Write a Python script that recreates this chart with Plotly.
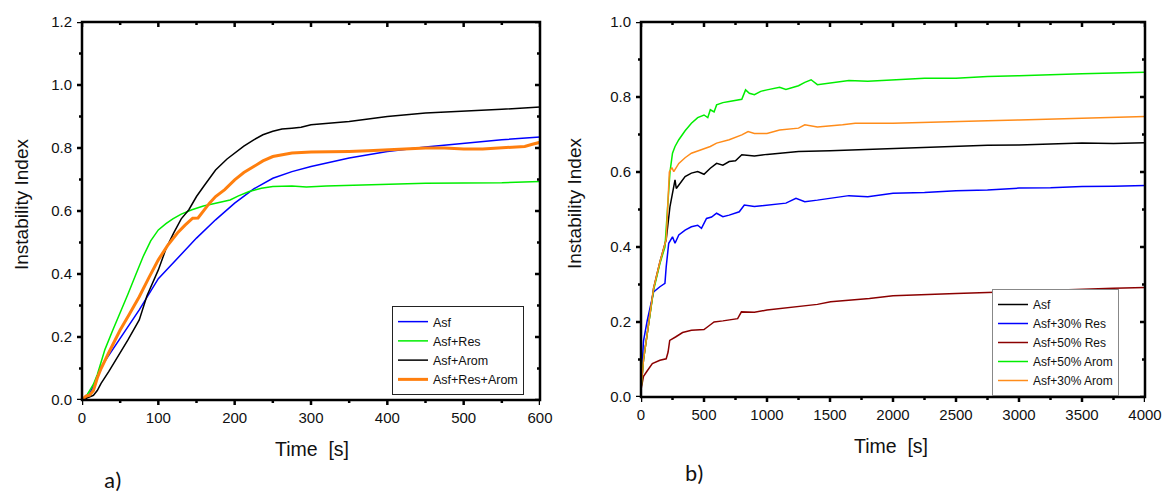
import plotly.graph_objects as go

# ---------------- Panel a) data ----------------
a_t_asf = [0, 5, 10, 15, 25, 50, 75, 100, 125, 150, 175, 200, 225, 250, 275, 300, 350, 400, 450, 500, 550, 600]
a_v_asf = [0.0, 0.005, 0.02, 0.045, 0.105, 0.196, 0.286, 0.385, 0.45, 0.514, 0.572, 0.625, 0.67, 0.704, 0.725, 0.741, 0.768, 0.789, 0.803, 0.815, 0.826, 0.835]

a_t_res = [0, 5, 10, 15, 20, 25, 30, 40, 50, 60, 70, 80, 90, 100, 110, 119, 130, 144, 159, 175, 194, 205, 219, 235, 250, 275, 294, 320, 350, 400, 450, 500, 550, 600]
a_v_res = [0.0, 0.01, 0.03, 0.05, 0.08, 0.12, 0.16, 0.22, 0.275, 0.335, 0.395, 0.455, 0.505, 0.54, 0.56, 0.575, 0.59, 0.604, 0.616, 0.625, 0.635, 0.648, 0.662, 0.672, 0.678, 0.679, 0.676, 0.679, 0.681, 0.686, 0.688, 0.689, 0.69, 0.694]

a_t_arom = [0, 5, 10, 15, 20, 25, 35, 50, 60, 75, 85, 100, 110, 120, 130, 140, 150, 160, 175, 190, 200, 212, 225, 237, 250, 262, 275, 287, 300, 325, 350, 375, 400, 450, 500, 550, 600]
a_v_arom = [0.0, 0.005, 0.01, 0.015, 0.03, 0.053, 0.09, 0.148, 0.19, 0.254, 0.33, 0.413, 0.48, 0.53, 0.575, 0.604, 0.646, 0.68, 0.73, 0.765, 0.784, 0.806, 0.826, 0.842, 0.853, 0.86, 0.863, 0.866, 0.874, 0.879, 0.884, 0.892, 0.9, 0.911, 0.916, 0.923, 0.93]

a_t_resarom = [0, 5, 10, 15, 20, 25, 35, 50, 62, 75, 88, 100, 112, 125, 135, 145, 152, 160, 167, 175, 187, 200, 212, 225, 237, 250, 262, 275, 300, 325, 350, 375, 400, 450, 475, 500, 525, 550, 580, 590, 600]
a_v_resarom = [0.0, 0.012, 0.015, 0.03, 0.07, 0.1, 0.15, 0.222, 0.272, 0.328, 0.39, 0.445, 0.49, 0.53, 0.555, 0.577, 0.578, 0.605, 0.625, 0.646, 0.668, 0.699, 0.722, 0.741, 0.759, 0.773, 0.779, 0.784, 0.787, 0.787, 0.789, 0.791, 0.794, 0.8, 0.8, 0.797, 0.797, 0.8, 0.805, 0.812, 0.818]

# ---------------- Panel b) data ----------------
b_t_asf = [0, 20, 50, 100, 150, 200, 230, 250, 270, 280, 300, 350, 400, 450, 500, 550, 600, 650, 700, 750, 800, 900, 1000, 1100, 1250, 1500, 1750, 2000, 2250, 2500, 2750, 3000, 3250, 3500, 3750, 4000]
b_v_asf = [0.02, 0.1, 0.17, 0.29, 0.36, 0.42, 0.508, 0.548, 0.579, 0.556, 0.565, 0.588, 0.597, 0.601, 0.594, 0.61, 0.623, 0.618, 0.628, 0.63, 0.646, 0.643, 0.647, 0.65, 0.655, 0.657, 0.66, 0.663, 0.666, 0.67, 0.671, 0.672, 0.674, 0.677, 0.676, 0.678]

b_t_res30 = [0, 10, 20, 50, 100, 150, 190, 200, 220, 250, 270, 300, 350, 400, 450, 480, 520, 560, 600, 650, 700, 780, 820, 900, 1000, 1150, 1230, 1300, 1400, 1500, 1650, 1800, 2000, 2250, 2500, 2750, 3000, 3250, 3500, 3750, 4000]
b_v_res30 = [0.03, 0.1, 0.15, 0.205, 0.28, 0.294, 0.303, 0.347, 0.41, 0.427, 0.41, 0.432, 0.445, 0.454, 0.458, 0.45, 0.476, 0.48, 0.49, 0.481, 0.485, 0.494, 0.512, 0.508, 0.512, 0.517, 0.53, 0.521, 0.525, 0.53, 0.537, 0.534, 0.543, 0.545, 0.55, 0.552, 0.557, 0.558, 0.561, 0.562, 0.564]

b_t_res50 = [0, 10, 20, 50, 90, 150, 200, 215, 228, 274, 330, 400, 450, 500, 540, 580, 650, 700, 767, 797, 900, 1000, 1100, 1200, 1320, 1400, 1505, 1650, 1813, 2000, 2250, 2500, 2750, 3000, 3250, 3500, 3750, 4000]
b_v_res50 = [0.02, 0.04, 0.055, 0.07, 0.089, 0.098, 0.102, 0.12, 0.151, 0.16, 0.172, 0.178, 0.18, 0.18, 0.19, 0.2, 0.203, 0.205, 0.209, 0.227, 0.226, 0.232, 0.236, 0.24, 0.245, 0.247, 0.254, 0.258, 0.263, 0.27, 0.272, 0.276, 0.279, 0.282, 0.285, 0.288, 0.29, 0.292]

b_t_arom50 = [0, 20, 50, 100, 150, 190, 210, 230, 250, 270, 300, 350, 400, 450, 500, 530, 550, 580, 600, 650, 700, 750, 800, 830, 860, 900, 950, 1000, 1050, 1100, 1150, 1200, 1250, 1300, 1350, 1400, 1500, 1650, 1800, 2000, 2250, 2500, 2750, 3000, 3250, 3500, 3750, 4000]
b_v_arom50 = [0.02, 0.1, 0.17, 0.285, 0.356, 0.4, 0.5, 0.6, 0.65, 0.668, 0.686, 0.71, 0.73, 0.745, 0.752, 0.745, 0.766, 0.76, 0.779, 0.785, 0.788, 0.79, 0.794, 0.819, 0.81, 0.806, 0.815, 0.819, 0.822, 0.826, 0.82, 0.826, 0.83, 0.839, 0.846, 0.833, 0.837, 0.844, 0.842, 0.846, 0.85, 0.85, 0.855, 0.857, 0.86, 0.862, 0.864, 0.866]

b_t_arom30 = [0, 20, 50, 100, 150, 200, 225, 245, 260, 300, 350, 400, 450, 500, 550, 600, 650, 700, 800, 850, 900, 1000, 1100, 1250, 1300, 1400, 1600, 1700, 2000, 2250, 2500, 2750, 3000, 3250, 3500, 3750, 4000]
b_v_arom30 = [0.02, 0.1, 0.17, 0.29, 0.36, 0.42, 0.6, 0.612, 0.601, 0.623, 0.638, 0.65, 0.656, 0.661, 0.668, 0.677, 0.682, 0.686, 0.699, 0.708, 0.703, 0.703, 0.712, 0.717, 0.726, 0.72, 0.726, 0.73, 0.73, 0.733, 0.735, 0.737, 0.739, 0.741, 0.744, 0.746, 0.748]

# ---------------- Tick values ----------------
a_x_major = [0, 100, 200, 300, 400, 500, 600]
a_x_minor = [50, 150, 250, 350, 450, 550]
a_y_major = [0.0, 0.2, 0.4, 0.6, 0.8, 1.0, 1.2]
a_y_minor = [0.1, 0.3, 0.5, 0.7, 0.9, 1.1]
b_x_major = [0, 500, 1000, 1500, 2000, 2500, 3000, 3500, 4000]
b_x_minor = [250, 750, 1250, 1750, 2250, 2750, 3250, 3750]
b_y_major = [0.0, 0.2, 0.4, 0.6, 0.8, 1.0]
b_y_minor = [0.1, 0.3, 0.5, 0.7, 0.9]

FONT = "Liberation Sans, Arial, sans-serif"
INK = "#111111"
W, H = 1169, 494

fig = go.Figure()

# Panel a traces
fig.add_trace(go.Scatter(x=a_t_asf, y=a_v_asf, name="Asf", mode="lines",
                         line=dict(color="#0000FF", width=1.5), xaxis="x", yaxis="y", legend="legend"))
fig.add_trace(go.Scatter(x=a_t_res, y=a_v_res, name="Asf+Res", mode="lines",
                         line=dict(color="#00EE00", width=1.5), xaxis="x", yaxis="y", legend="legend"))
fig.add_trace(go.Scatter(x=a_t_arom, y=a_v_arom, name="Asf+Arom", mode="lines",
                         line=dict(color="#000000", width=1.5), xaxis="x", yaxis="y", legend="legend"))
fig.add_trace(go.Scatter(x=a_t_resarom, y=a_v_resarom, name="Asf+Res+Arom", mode="lines",
                         line=dict(color="#FF7F0E", width=3), xaxis="x", yaxis="y", legend="legend"))

# Panel b traces
fig.add_trace(go.Scatter(x=b_t_asf, y=b_v_asf, name="Asf", mode="lines",
                         line=dict(color="#000000", width=1.5), xaxis="x2", yaxis="y2", legend="legend2"))
fig.add_trace(go.Scatter(x=b_t_res30, y=b_v_res30, name="Asf+30% Res", mode="lines",
                         line=dict(color="#0000FF", width=1.5), xaxis="x2", yaxis="y2", legend="legend2"))
fig.add_trace(go.Scatter(x=b_t_res50, y=b_v_res50, name="Asf+50% Res", mode="lines",
                         line=dict(color="#8B0000", width=1.5), xaxis="x2", yaxis="y2", legend="legend2"))
fig.add_trace(go.Scatter(x=b_t_arom50, y=b_v_arom50, name="Asf+50% Arom", mode="lines",
                         line=dict(color="#00EE00", width=1.5), xaxis="x2", yaxis="y2", legend="legend2"))
fig.add_trace(go.Scatter(x=b_t_arom30, y=b_v_arom30, name="Asf+30% Arom", mode="lines",
                         line=dict(color="#FF8C1A", width=1.5), xaxis="x2", yaxis="y2", legend="legend2"))

tickfont = dict(family=FONT, size=15, color=INK)

def axis(rng, dtick, domain, anchor, fmt, standoff):
    return dict(range=rng, dtick=dtick, domain=domain, anchor=anchor, tickformat=fmt,
                showline=False, ticks="", showgrid=False, zeroline=False,
                tickfont=tickfont, ticklabelstandoff=standoff)

xa_dom = [82 / W, 540 / W]
xb_dom = [641 / W, 1145 / W]
ya_dom = [1 - 400 / H, 1 - 22 / H]
yb_dom = [1 - 397 / H, 1 - 22 / H]

fig.update_layout(
    template="none",
    width=W, height=H,
    margin=dict(l=0, r=0, t=0, b=0),
    paper_bgcolor="white", plot_bgcolor="white",
    showlegend=True,
    xaxis=axis([0, 600], 100, xa_dom, "y", "d", 7),
    yaxis=axis([0, 1.2], 0.2, ya_dom, "x", ".1f", 9),
    xaxis2=axis([0, 4000], 500, xb_dom, "y2", "d", 7),
    yaxis2=axis([0, 1.0], 0.2, yb_dom, "x2", ".1f", 9),
    legend=dict(x=392 / W, y=1 - 306 / H, xanchor="left", yanchor="top",
                bgcolor="white", bordercolor="#222222", borderwidth=1,
                font=dict(family=FONT, size=12.5, color=INK), tracegroupgap=0,
                itemwidth=30),
    legend2=dict(x=992 / W, y=1 - 289 / H, xanchor="left", yanchor="top",
                 bgcolor="white", bordercolor="#888888", borderwidth=1,
                 font=dict(family=FONT, size=12, color=INK), tracegroupgap=0,
                 itemwidth=30),
)

# ---- Frame and tick marks (major/minor; outward on bottom/left, inward on top/right) ----
shapes = []
LINE = dict(color="black", width=2.5)

def add_frame(xr, yr):
    shapes.append(dict(type="rect", xref=xr + " domain", yref=yr + " domain", x0=0, x1=1, y0=0, y1=1,
                       line=LINE, fillcolor="rgba(0,0,0,0)", layer="above"))

def add_xticks(xr, yr, vals, length_px, ydom):
    f = length_px / ((ydom[1] - ydom[0]) * H)
    for v in vals:
        shapes.append(dict(type="line", xref=xr, yref=yr + " domain",
                           x0=v, x1=v, y0=0, y1=-f, line=LINE, layer="above"))
        shapes.append(dict(type="line", xref=xr, yref=yr + " domain",
                           x0=v, x1=v, y0=1, y1=1 - f, line=LINE, layer="above"))

def add_yticks(xr, yr, vals, length_px, xdom):
    f = length_px / ((xdom[1] - xdom[0]) * W)
    for v in vals:
        shapes.append(dict(type="line", xref=xr + " domain", yref=yr,
                           x0=0, x1=-f, y0=v, y1=v, line=LINE, layer="above"))
        shapes.append(dict(type="line", xref=xr + " domain", yref=yr,
                           x0=1, x1=1 - f, y0=v, y1=v, line=LINE, layer="above"))

add_frame("x", "y")
add_xticks("x", "y", a_x_major, 5, ya_dom)
add_xticks("x", "y", a_x_minor, 3, ya_dom)
add_yticks("x", "y", a_y_major, 5, xa_dom)
add_yticks("x", "y", a_y_minor, 3, xa_dom)
add_frame("x2", "y2")
add_xticks("x2", "y2", b_x_major, 5, yb_dom)
add_xticks("x2", "y2", b_x_minor, 3, yb_dom)
add_yticks("x2", "y2", b_y_major, 5, xb_dom)
add_yticks("x2", "y2", b_y_minor, 3, xb_dom)
fig.update_layout(shapes=shapes)

ann_font_title = dict(family=FONT, size=19, color=INK)
fig.add_annotation(text="Instability Index", textangle=-90, x=21 / W, y=1 - 205 / H,
                   xref="paper", yref="paper", showarrow=False, font=ann_font_title,
                   xanchor="center", yanchor="middle")
fig.add_annotation(text="Instability Index", textangle=-90, x=574 / W, y=1 - 204 / H,
                   xref="paper", yref="paper", showarrow=False, font=ann_font_title,
                   xanchor="center", yanchor="middle")
fig.add_annotation(text="Time  [s]", x=312 / W, y=1 - 449 / H,
                   xref="paper", yref="paper", showarrow=False, font=dict(family=FONT, size=19.5, color=INK),
                   xanchor="center", yanchor="middle")
fig.add_annotation(text="Time  [s]", x=891 / W, y=1 - 446 / H,
                   xref="paper", yref="paper", showarrow=False, font=dict(family=FONT, size=19.5, color=INK),
                   xanchor="center", yanchor="middle")
fig.add_annotation(text="a)", x=113 / W, y=1 - 480 / H,
                   xref="paper", yref="paper", showarrow=False, font=dict(family="Carlito, Liberation Sans, sans-serif", size=23, color=INK),
                   xanchor="center", yanchor="middle")
fig.add_annotation(text="b)", x=694 / W, y=1 - 473 / H,
                   xref="paper", yref="paper", showarrow=False, font=dict(family="Carlito, Liberation Sans, sans-serif", size=23, color=INK),
                   xanchor="center", yanchor="middle")

fig.write_html("out.html")
